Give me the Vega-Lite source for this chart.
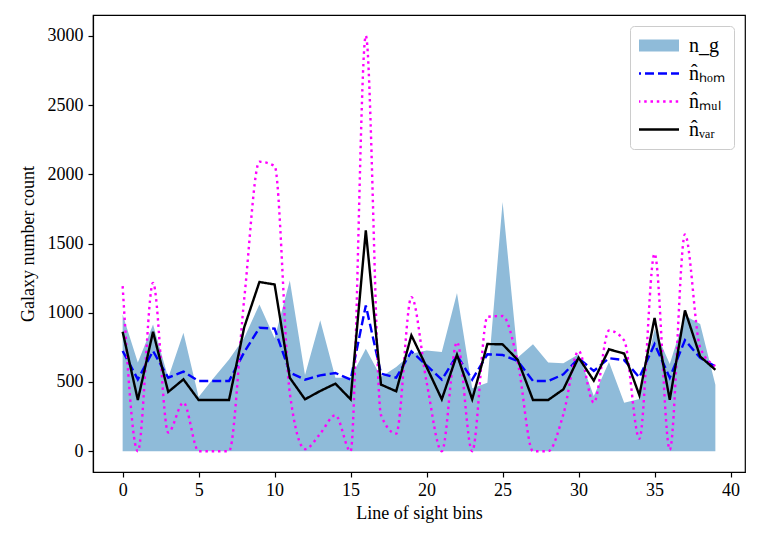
{
  "$schema": "https://vega.github.io/schema/vega-lite/v6.json",
  "autosize": {"type": "none"},
  "width": 652,
  "height": 457,
  "padding": {"left": 93, "top": 15, "right": 13, "bottom": 71},
  "background": "white",
  "config": {
    "view": {"stroke": "black", "strokeWidth": 1.2},
    "font": "Liberation Serif"
  },
  "data": {
    "values": [
      {"bin": 0, "series": "n_g", "value": 988}, {"bin": 1, "series": "n_g", "value": 640}, {"bin": 2, "series": "n_g", "value": 916}, {"bin": 3, "series": "n_g", "value": 531},
      {"bin": 4, "series": "n_g", "value": 855}, {"bin": 5, "series": "n_g", "value": 392}, {"bin": 6, "series": "n_g", "value": 531}, {"bin": 7, "series": "n_g", "value": 663},
      {"bin": 8, "series": "n_g", "value": 820}, {"bin": 9, "series": "n_g", "value": 1060}, {"bin": 10, "series": "n_g", "value": 815}, {"bin": 11, "series": "n_g", "value": 1233},
      {"bin": 12, "series": "n_g", "value": 550}, {"bin": 13, "series": "n_g", "value": 945}, {"bin": 14, "series": "n_g", "value": 530}, {"bin": 15, "series": "n_g", "value": 530},
      {"bin": 16, "series": "n_g", "value": 740}, {"bin": 17, "series": "n_g", "value": 536}, {"bin": 18, "series": "n_g", "value": 608}, {"bin": 19, "series": "n_g", "value": 704},
      {"bin": 20, "series": "n_g", "value": 728}, {"bin": 21, "series": "n_g", "value": 716}, {"bin": 22, "series": "n_g", "value": 1142}, {"bin": 23, "series": "n_g", "value": 455},
      {"bin": 24, "series": "n_g", "value": 495}, {"bin": 25, "series": "n_g", "value": 1800}, {"bin": 26, "series": "n_g", "value": 676}, {"bin": 27, "series": "n_g", "value": 772},
      {"bin": 28, "series": "n_g", "value": 640}, {"bin": 29, "series": "n_g", "value": 635}, {"bin": 30, "series": "n_g", "value": 700}, {"bin": 31, "series": "n_g", "value": 399},
      {"bin": 32, "series": "n_g", "value": 644}, {"bin": 33, "series": "n_g", "value": 350}, {"bin": 34, "series": "n_g", "value": 378}, {"bin": 35, "series": "n_g", "value": 880},
      {"bin": 36, "series": "n_g", "value": 630}, {"bin": 37, "series": "n_g", "value": 980}, {"bin": 38, "series": "n_g", "value": 918}, {"bin": 39, "series": "n_g", "value": 480},

      {"bin": 0, "series": "hom", "value": 724}, {"bin": 1, "series": "hom", "value": 519}, {"bin": 2, "series": "hom", "value": 724}, {"bin": 3, "series": "hom", "value": 531},
      {"bin": 4, "series": "hom", "value": 575}, {"bin": 5, "series": "hom", "value": 507}, {"bin": 6, "series": "hom", "value": 507}, {"bin": 7, "series": "hom", "value": 507},
      {"bin": 8, "series": "hom", "value": 715}, {"bin": 9, "series": "hom", "value": 892}, {"bin": 10, "series": "hom", "value": 885}, {"bin": 11, "series": "hom", "value": 568},
      {"bin": 12, "series": "hom", "value": 517}, {"bin": 13, "series": "hom", "value": 548}, {"bin": 14, "series": "hom", "value": 565}, {"bin": 15, "series": "hom", "value": 517},
      {"bin": 16, "series": "hom", "value": 1053}, {"bin": 17, "series": "hom", "value": 560}, {"bin": 18, "series": "hom", "value": 531}, {"bin": 19, "series": "hom", "value": 721},
      {"bin": 20, "series": "hom", "value": 620}, {"bin": 21, "series": "hom", "value": 517}, {"bin": 22, "series": "hom", "value": 692}, {"bin": 23, "series": "hom", "value": 517},
      {"bin": 24, "series": "hom", "value": 700}, {"bin": 25, "series": "hom", "value": 695}, {"bin": 26, "series": "hom", "value": 651}, {"bin": 27, "series": "hom", "value": 507},
      {"bin": 28, "series": "hom", "value": 507}, {"bin": 29, "series": "hom", "value": 555}, {"bin": 30, "series": "hom", "value": 671}, {"bin": 31, "series": "hom", "value": 580},
      {"bin": 32, "series": "hom", "value": 672}, {"bin": 33, "series": "hom", "value": 658}, {"bin": 34, "series": "hom", "value": 533}, {"bin": 35, "series": "hom", "value": 774},
      {"bin": 36, "series": "hom", "value": 531}, {"bin": 37, "series": "hom", "value": 802}, {"bin": 38, "series": "hom", "value": 674}, {"bin": 39, "series": "hom", "value": 612},

      {"bin": 0, "series": "mul", "value": 1192}, {"bin": 1, "series": "mul", "value": 0}, {"bin": 2, "series": "mul", "value": 1216}, {"bin": 3, "series": "mul", "value": 135},
      {"bin": 4, "series": "mul", "value": 351}, {"bin": 5, "series": "mul", "value": 0}, {"bin": 6, "series": "mul", "value": 0}, {"bin": 7, "series": "mul", "value": 0},
      {"bin": 8, "series": "mul", "value": 1100}, {"bin": 9, "series": "mul", "value": 2090}, {"bin": 10, "series": "mul", "value": 2060}, {"bin": 11, "series": "mul", "value": 420},
      {"bin": 12, "series": "mul", "value": 15}, {"bin": 13, "series": "mul", "value": 127}, {"bin": 14, "series": "mul", "value": 260}, {"bin": 15, "series": "mul", "value": 0},
      {"bin": 16, "series": "mul", "value": 3000}, {"bin": 17, "series": "mul", "value": 260}, {"bin": 18, "series": "mul", "value": 127}, {"bin": 19, "series": "mul", "value": 1113},
      {"bin": 20, "series": "mul", "value": 500}, {"bin": 21, "series": "mul", "value": 0}, {"bin": 22, "series": "mul", "value": 788}, {"bin": 23, "series": "mul", "value": 0},
      {"bin": 24, "series": "mul", "value": 970}, {"bin": 25, "series": "mul", "value": 976}, {"bin": 26, "series": "mul", "value": 640}, {"bin": 27, "series": "mul", "value": 0},
      {"bin": 28, "series": "mul", "value": 0}, {"bin": 29, "series": "mul", "value": 267}, {"bin": 30, "series": "mul", "value": 724}, {"bin": 31, "series": "mul", "value": 351},
      {"bin": 32, "series": "mul", "value": 872}, {"bin": 33, "series": "mul", "value": 800}, {"bin": 34, "series": "mul", "value": 90}, {"bin": 35, "series": "mul", "value": 1426},
      {"bin": 36, "series": "mul", "value": 10}, {"bin": 37, "series": "mul", "value": 1565}, {"bin": 38, "series": "mul", "value": 748}, {"bin": 39, "series": "mul", "value": 615},

      {"bin": 0, "series": "var", "value": 863}, {"bin": 1, "series": "var", "value": 370}, {"bin": 2, "series": "var", "value": 863}, {"bin": 3, "series": "var", "value": 428},
      {"bin": 4, "series": "var", "value": 519}, {"bin": 5, "series": "var", "value": 370}, {"bin": 6, "series": "var", "value": 370}, {"bin": 7, "series": "var", "value": 370},
      {"bin": 8, "series": "var", "value": 895}, {"bin": 9, "series": "var", "value": 1222}, {"bin": 10, "series": "var", "value": 1204}, {"bin": 11, "series": "var", "value": 530},
      {"bin": 12, "series": "var", "value": 375}, {"bin": 13, "series": "var", "value": 435}, {"bin": 14, "series": "var", "value": 488}, {"bin": 15, "series": "var", "value": 375},
      {"bin": 16, "series": "var", "value": 1594}, {"bin": 17, "series": "var", "value": 481}, {"bin": 18, "series": "var", "value": 433}, {"bin": 19, "series": "var", "value": 837},
      {"bin": 20, "series": "var", "value": 608}, {"bin": 21, "series": "var", "value": 375}, {"bin": 22, "series": "var", "value": 697}, {"bin": 23, "series": "var", "value": 375},
      {"bin": 24, "series": "var", "value": 774}, {"bin": 25, "series": "var", "value": 772}, {"bin": 26, "series": "var", "value": 659}, {"bin": 27, "series": "var", "value": 370},
      {"bin": 28, "series": "var", "value": 370}, {"bin": 29, "series": "var", "value": 447}, {"bin": 30, "series": "var", "value": 676}, {"bin": 31, "series": "var", "value": 510},
      {"bin": 32, "series": "var", "value": 736}, {"bin": 33, "series": "var", "value": 705}, {"bin": 34, "series": "var", "value": 404}, {"bin": 35, "series": "var", "value": 963},
      {"bin": 36, "series": "var", "value": 372}, {"bin": 37, "series": "var", "value": 1017}, {"bin": 38, "series": "var", "value": 684}, {"bin": 39, "series": "var", "value": 588}
    ]
  },
  "encoding": {
    "x": {
      "field": "bin",
      "type": "quantitative",
      "scale": {"domain": [-1.95, 40.95], "nice": false, "zero": false},
      "axis": {
        "values": [0, 5, 10, 15, 20, 25, 30, 35, 40], "format": "d",
        "title": "Line of sight bins", "titlePadding": 5, "labelPadding": 4,
        "grid": false, "domainColor": "black", "domainWidth": 1.2, "tickColor": "black", "tickSize": 5, "tickWidth": 1.2,
        "labelFont": "Liberation Serif", "labelFontSize": 18, "labelColor": "black",
        "titleFont": "Liberation Serif", "titleFontSize": 18, "titleFontWeight": "normal", "titleColor": "black"
      }
    },
    "y": {
      "field": "value",
      "type": "quantitative",
      "scale": {"domain": [-150, 3150], "nice": false, "zero": false},
      "axis": {
        "values": [0, 500, 1000, 1500, 2000, 2500, 3000], "format": "d",
        "title": "Galaxy number count", "titlePadding": 10, "labelPadding": 5,
        "grid": false, "domainColor": "black", "domainWidth": 1.2, "tickColor": "black", "tickSize": 5, "tickWidth": 1.2,
        "labelFont": "Liberation Serif", "labelFontSize": 18, "labelColor": "black",
        "titleFont": "Liberation Serif", "titleFontSize": 18, "titleFontWeight": "normal", "titleColor": "black"
      }
    },
    "color": {
      "field": "series",
      "type": "nominal",
      "scale": {"domain": ["n_g", "hom", "mul", "var"], "range": ["#8fbbd9", "#0000ff", "#ff00ff", "#000000"]},
      "legend": {
        "title": null,
        "orient": "top-right",
        "offset": 11,
        "symbolType": "stroke",
        "symbolSize": 3600,
        "symbolStrokeWidth": 2.4,
        "labelFont": "Liberation Serif",
        "labelFontSize": 20,
        "labelColor": "black",
        "clipHeight": 21,
        "rowPadding": 7,
        "padding": 9,
        "strokeColor": "#cccccc",
        "cornerRadius": 4,
        "fillColor": "white",
        "labelOffset": 30,
        "labelExpr": "datum.value === 'n_g' ? 'n_g' : datum.value === 'hom' ? 'n̂ₕₒₘ' : datum.value === 'mul' ? 'n̂ₘᵤₗ' : 'n̂ᵥₐᵣ'",
        "encode": {
          "symbols": {"update": {"strokeWidth": {"signal": "datum.value === 'n_g' ? 12 : 2.4"}}}
        }
      }
    },
    "strokeDash": {
      "field": "series",
      "type": "nominal",
      "scale": {"domain": ["n_g", "hom", "mul", "var"], "range": [[1, 0], [9, 4], [2.5, 3.8], [1, 0]]},
      "legend": null
    }
  },
  "layer": [
    {
      "transform": [{"filter": "datum.series === 'n_g'"}],
      "mark": {"type": "area", "opacity": 1},
      "encoding": {"y2": {"datum": 0}, "strokeDash": null}
    },
    {
      "transform": [{"filter": "datum.series === 'hom'"}],
      "mark": {"type": "line", "strokeWidth": 2.4}
    },
    {
      "transform": [{"filter": "datum.series === 'mul'"}],
      "mark": {"type": "line", "strokeWidth": 2.4, "interpolate": "monotone"}
    },
    {
      "transform": [{"filter": "datum.series === 'var'"}],
      "mark": {"type": "line", "strokeWidth": 2.4}
    }
  ]
}
